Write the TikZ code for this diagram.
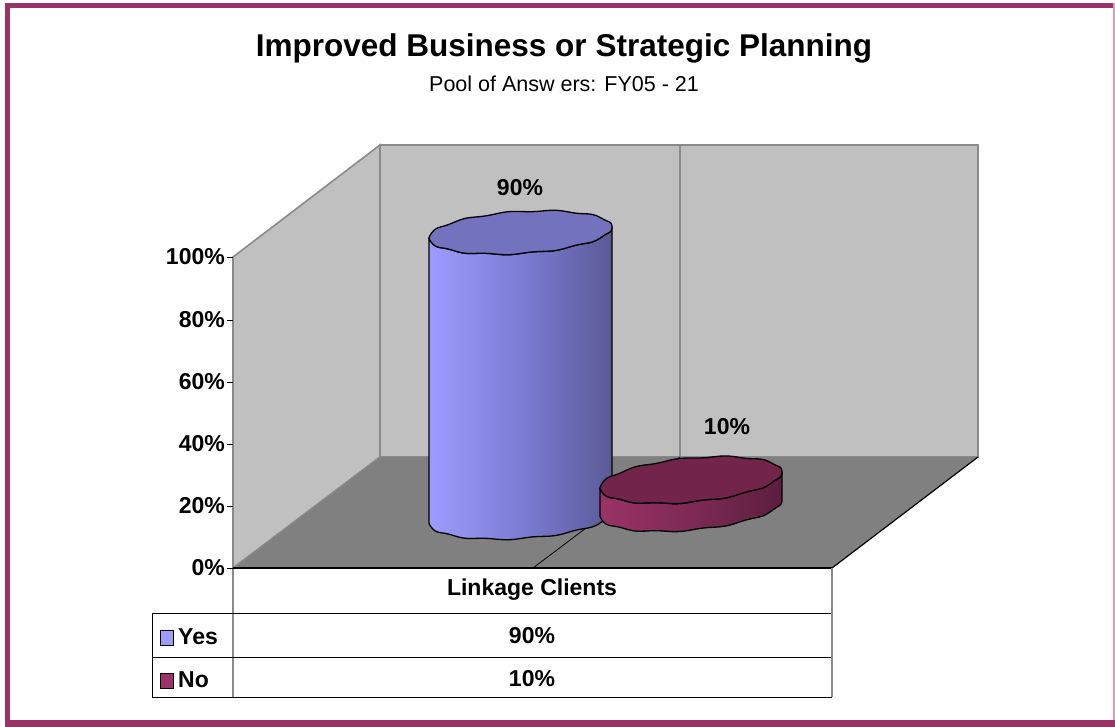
\documentclass[tikz,border=0pt]{standalone}
\usepackage{fontspec}
\setmainfont{Liberation Sans}
\definecolor{frame}{HTML}{993366}
\definecolor{framelight}{HTML}{D99ABB}
\definecolor{wall}{HTML}{C0C0C0}
\definecolor{floorc}{HTML}{808080}
\definecolor{edge}{HTML}{8A8A8A}
\definecolor{yesL}{HTML}{9C9CFF}
\definecolor{yesM}{HTML}{7C7CD4}
\definecolor{yesR}{HTML}{5A5A98}
\definecolor{yesT}{HTML}{7272BE}
\definecolor{noL}{HTML}{993366}
\definecolor{noM}{HTML}{7E2A55}
\definecolor{noR}{HTML}{5C1E3E}
\definecolor{noT}{HTML}{72244A}
\newcommand\mycyl[9]{%
  \path[draw=black, line width=1.3pt, line join=round, left color=#7, right color=#8, middle color=#9]
    plot[domain=180:0, samples=91] ({#1+#4*cos(\x)}, {#2+#3+#5*sin(\x)-#6*cos(\x)+0.7*sin(12*\x)})
    -- plot[domain=0:180, samples=91] ({#1+#4*cos(\x)}, {#2+#5*sin(\x)-#6*cos(\x)+0.7*sin(12*\x)}) -- cycle;
}
\newcommand\mycyltop[7]{%
  \path[draw=black, line width=1.3pt, line join=round, fill=#7]
    plot[domain=0:360, samples=181] ({#1+#4*cos(\x)}, {#2+#5*sin(\x)-#6*cos(\x)+0.7*sin(12*\x)}) -- cycle;
}
\tikzset{
  lbl/.style={font=\fontsize{23}{27}\selectfont\bfseries, inner sep=0pt},
  axlbl/.style={lbl, anchor=east},
  walledge/.style={draw=edge, line width=1.6pt},
  tblline/.style={draw=black, line width=1pt},
  tick/.style={draw=black, line width=0.9pt},
}
\begin{document}
\begin{tikzpicture}[x=1pt, y=-1pt]
\useasboundingbox (0,0) rectangle (1115,727);
\fill[white] (0,0) rectangle (1115,727);
% frame
\draw[frame, line width=5pt] (5,5.5) -- (1115,5.5);
\draw[frame, line width=5pt] (7.5,3) -- (7.5,727);
\draw[frame, line width=7pt] (5,723.5) -- (1115,723.5);
\draw[framelight, line width=1.5pt] (1114.2,3) -- (1114.2,720);
% title
\node[font=\fontsize{31.5}{36}\selectfont\bfseries, inner sep=0pt] (title) at (564,48) {Improved Business or Strategic Planning};
\node[font=\fontsize{21.5}{25}\selectfont, inner sep=0pt] (subtitle) at (564,84) {Pool of Answ ers: FY05 - 21};
% walls
\path[fill=wall, walledge] (380,145) -- (978,145) -- (978,457) -- (380,457) -- cycle;
\path[fill=wall, walledge] (233,257) -- (380,145) -- (380,457) -- (233,568) -- cycle;
\path[fill=floorc] (233,568) -- (380,457) -- (978,457) -- (832,568) -- cycle;
\draw[draw=edge, line width=1pt] (233,568) -- (380,457);
\draw[walledge] (680,145) -- (680,457);
\draw[black, line width=0.8pt] (680,457) -- (533,568);
\draw[black, line width=1.2pt] (832,568) -- (978,457);
% cylinders
\mycyl{520.5}{232.5}{285}{91.5}{21}{5.5}{yesL}{yesR}{yesM}
\mycyltop{520.5}{232.5}{285}{91.5}{21}{5.5}{yesT}
\mycyl{691}{480}{28}{91}{22}{8}{noL}{noR}{noM}
\mycyltop{691}{480}{28}{91}{22}{8}{noT}
% value labels
\node[lbl] (v90) at (520,188) {90\%};
\node[lbl] (v10) at (727,427) {10\%};
% axis
\draw[draw=edge, line width=1.6pt] (233,257) -- (233,697);
\draw[black, line width=1.2pt] (233,568) -- (832,568);
\foreach \yy/\lab/\nm in {257/100/a,320/80/b,382/60/c,444/40/d,506/20/e,568/0/f}{
  \draw[tick] (227,\yy) -- (233,\yy);
  \node[axlbl] (ax\nm) at (225,\yy) {\lab\%};
}
% table
\draw[tblline] (152,613) -- (832,613);
\draw[tblline] (152,657) -- (832,657);
\draw[tblline] (152,697) -- (832,697);
\draw[tblline] (152,613) -- (152,697);
\draw[draw=edge, line width=1.2pt] (832,568) -- (832,697);
\node[lbl] (cat) at (532,590) {Linkage Clients};
\node[lbl] (t90) at (532,636) {90\%};
\node[lbl] (t10) at (532,679) {10\%};
\draw[black, line width=1pt, fill=yesL] (160,630) rectangle (173,645) node[coordinate] (sqyes) {};
\draw[black, line width=1pt, fill=noL] (160,673) rectangle (173,688) node[coordinate] (sqno) {};
\node[lbl, anchor=west] (yes) at (178,637) {Yes};
\node[lbl, anchor=west] (no) at (178,680) {No};
\end{tikzpicture}
\end{document}
